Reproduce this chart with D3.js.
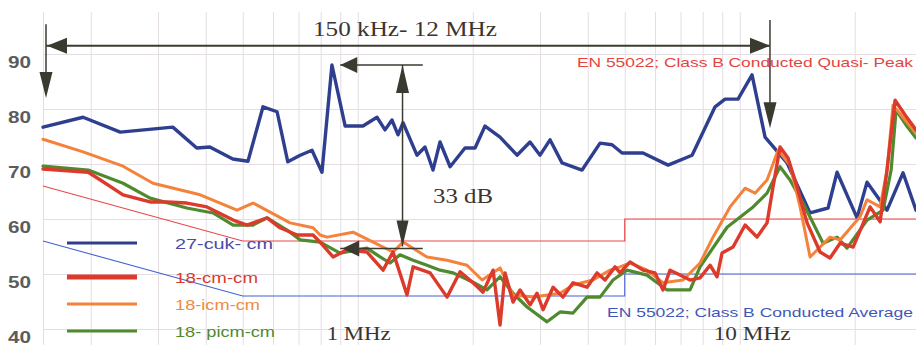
<!DOCTYPE html>
<html>
<head>
<meta charset="utf-8">
<script src="https://cdn.jsdelivr.net/npm/d3@7"></script>
<style>
  html, body { margin: 0; padding: 0; background: #fff; }
  svg { display: block; }
</style>
</head>
<body>
<svg id="chart" width="916" height="345"></svg>
<script>
// ---- data: frequency in MHz, level in dBµV ----
const cukData = [
  [0.150,76.7],[0.191,78.5],[0.239,75.8],[0.328,76.7],[0.379,72.9],[0.410,73.1],[0.471,70.9],
  [0.516,70.5],[0.565,80.4],[0.615,79.5],[0.656,70.4],[0.707,71.6],[0.759,72.5],[0.806,68.5],
  [0.856,88.0],[0.927,76.9],[1.032,76.9],[1.123,78.5],[1.179,76.2],[1.229,78.0],[1.275,75.3],
  [1.314,77.5],[1.429,71.6],[1.500,73.1],[1.574,68.9],[1.642,74.0],[1.745,69.5],[1.909,72.9],
  [2.028,72.9],[2.154,76.9],[2.358,74.9],[2.612,71.6],[2.825,74.0],[3.001,71.6],[3.187,74.4],
  [3.426,70.2],[3.866,68.9],[4.309,73.8],[4.632,73.5],[4.920,72.0],[5.583,72.0],[6.493,69.8],
  [7.504,71.6],[8.619,80.4],[9.153,81.8],[9.897,81.8],[10.77,86.2],[11.65,74.9],[13.30,70.2],
  [15.28,61.1],[17.03,62.0],[17.98,68.5],[20.28,60.2],[21.54,66.7],[24.30,61.6],[26.76,68.4],
  [28.94,61.6]
];
const cmData = [
  [0.150,69.1],[0.197,68.5],[0.212,67.1],[0.243,64.4],[0.286,63.1],[0.317,63.1],[0.357,62.9],
  [0.403,62.2],[0.472,59.8],[0.513,58.9],[0.579,60.2],[0.626,58.4],[0.694,57.1],[0.764,57.1],
  [0.797,55.8],[0.862,53.1],[0.937,54.4],[1.057,54.0],[1.165,50.7],[1.237,54.0],[1.346,46.2],
  [1.396,51.3],[1.547,50.2],[1.713,45.8],[1.853,50.4],[2.004,48.4],[2.128,46.7],[2.261,50.7],
  [2.358,40.7],[2.430,50.2],[2.550,44.9],[2.660,47.1],[2.826,44.4],[2.947,46.5],[3.056,43.5],
  [3.246,47.6],[3.446,45.8],[3.661,48.4],[3.984,47.6],[4.231,50.2],[4.441,48.9],[4.717,51.3],
  [4.860,50.2],[5.163,52.2],[5.583,50.7],[6.002,50.2],[6.298,47.1],[6.570,50.7],[6.978,49.8],
  [7.412,48.9],[7.873,49.3],[8.362,51.6],[8.723,49.5],[8.989,53.8],[9.605,54.9],[10.33,58.9],
  [11.10,56.7],[11.79,59.3],[12.22,65.8],[12.75,73.1],[13.38,71.1],[14.13,65.8],[15.01,59.3],
  [16.23,54.0],[17.23,52.9],[18.31,55.6],[19.81,54.9],[21.94,62.2],[23.31,59.5],[24.30,68.9],
  [25.51,81.6],[27.09,78.9],[28.94,76.2]
];
const icmData = [
  [0.150,74.5],[0.191,72.2],[0.243,69.6],[0.291,66.5],[0.387,64.4],[0.483,61.6],[0.532,62.9],
  [0.665,59.3],[0.764,58.4],[0.797,57.1],[0.831,56.7],[0.972,57.6],[1.097,55.8],[1.237,54.0],
  [1.314,55.8],[1.518,53.1],[1.713,52.5],[1.932,51.6],[2.116,48.9],[2.358,51.1],[2.550,46.2],
  [2.877,45.8],[3.386,46.5],[3.661,48.0],[4.130,48.9],[4.577,50.7],[4.860,51.3],[5.163,52.0],
  [5.718,50.7],[6.298,48.4],[7.105,48.9],[7.873,52.0],[8.513,56.7],[9.433,62.2],[10.33,65.6],
  [10.97,64.7],[11.79,67.1],[12.60,72.5],[13.54,69.8],[14.39,62.2],[15.28,53.1],[16.23,54.9],
  [17.23,56.7],[18.31,56.2],[20.65,60.4],[21.54,63.5],[23.31,62.2],[24.30,68.9],[25.19,80.7],
  [27.09,78.0],[28.94,75.6]
];
const picmData = [
  [0.150,69.6],[0.197,68.9],[0.243,66.5],[0.286,63.8],[0.357,62.0],[0.418,61.1],[0.472,58.9],
  [0.532,58.9],[0.579,60.2],[0.653,58.0],[0.707,56.2],[0.797,55.8],[0.899,53.8],[1.057,54.7],
  [1.144,53.1],[1.215,52.0],[1.290,53.5],[1.396,52.5],[1.518,51.6],[1.642,50.7],[1.777,50.2],
  [2.004,48.5],[2.180,47.1],[2.358,49.5],[2.550,46.5],[2.775,44.0],[3.130,41.3],[3.386,43.1],
  [3.661,42.9],[3.984,45.8],[4.309,45.8],[4.660,48.9],[5.070,50.7],[5.718,49.8],[6.454,47.1],
  [7.412,47.1],[7.873,51.3],[9.265,58.5],[10.84,62.2],[11.79,64.7],[12.75,69.5],[13.54,67.1],
  [14.65,62.9],[16.53,55.6],[17.98,56.7],[19.09,54.7],[21.54,59.8],[23.73,61.6],[24.91,68.9],
  [25.66,79.8],[27.24,77.1],[28.94,74.7]
];

// EN 55022 Class B conducted limits
const qpLimit  = [[0.15,66],[0.5,56],[5,56],[5,60],[30,60]];
const avgLimit = [[0.15,56],[0.5,46],[5,46],[5,50],[30,50]];

const seriesNames  = ["27-cuk- cm", "18-cm-cm", "18-icm-cm", "18- picm-cm"];
const levelTicks   = [40, 50, 60, 70, 80, 90];
const levelLabels  = ["40", "50", "60", "70", "80", "90"];
const freqGrid     = [0.15,0.2,0.3,0.4,0.5,0.6,0.7,0.8,0.9,1,2,3,4,5,6,7,8,9,10,20];
const decadeLabels = [[1, "1 MHz"], [10, "10 MHz"]];

// annotated range and margin
const spanStart = 0.15, spanEnd = 12, spanLabel = "150 kHz- 12 MHz";
const marginFreq = 1.31, marginTop = 88, marginBottom = 55, marginLabel = "33 dB";

// ---- layout ----
const W = 916, H = 345;
const svg = d3.select("#chart");
const x = d3.scaleLog().domain([0.15, 30]).range([43, 43 + 382 * Math.log10(200)]);
const y = d3.scaleLinear().domain([40, 90]).range([329, 54]);

const gridColor = "#e4dde2";
const ink = "#3b3a30";
const sans = "'Liberation Sans', Arial, sans-serif";
const serif = "'Liberation Serif', 'Times New Roman', serif";

// vertical grid
const gx = svg.append("g").attr("transform", `translate(0,${H})`)
  .call(d3.axisBottom(x).tickValues(freqGrid).tickSize(-(H - 12)).tickFormat(""));
gx.select(".domain").remove();
gx.selectAll(".tick line").attr("stroke", gridColor).attr("stroke-width", 1);

// horizontal grid + level labels
const gy = svg.append("g").attr("transform", `translate(${x(0.15)},0)`)
  .call(d3.axisLeft(y).tickValues(levelTicks)
    .tickFormat((d, i) => levelLabels[i]).tickSize(-(W - x(0.15))));
gy.select(".domain").remove();
gy.selectAll(".tick line").attr("stroke", gridColor).attr("stroke-width", 1);
gy.selectAll(".tick text")
  .attr("x", 8 - x(0.15)).attr("dy", null).attr("y", 13)
  .attr("text-anchor", "start")
  .attr("font-family", sans).attr("font-size", 16).attr("font-weight", "bold")
  .attr("fill", "#5c5c5c")
  .attr("textLength", 23).attr("lengthAdjust", "spacingAndGlyphs");

const line = d3.line().x(d => x(d[0])).y(d => y(d[1]));

// limit lines
svg.append("path").datum(qpLimit).attr("d", line)
  .attr("fill", "none").attr("stroke", "#e8484a").attr("stroke-width", 1.2);
svg.append("path").datum(avgLimit).attr("d", line)
  .attr("fill", "none").attr("stroke", "#4262d4").attr("stroke-width", 1.1);

// measured spectra
const series = [
  { data: cukData,  color: "#2f3f8f", text: "#4b4ba6", w: 3.4, lw: 3 },
  { data: picmData, color: "#4f8a2f", text: "#4f8a2f", w: 3.2, lw: 3.2 },
  { data: icmData,  color: "#f5823a", text: "#f08a3c", w: 3,   lw: 3.2 },
  { data: cmData,   color: "#dc3a2a", text: "#d8392c", w: 3.4, lw: 5 }
];
series.forEach(s => {
  svg.append("path").datum(s.data).attr("d", line)
    .attr("fill", "none").attr("stroke", s.color).attr("stroke-width", s.w)
    .attr("stroke-linejoin", "round").attr("stroke-linecap", "round");
});

// legend
const legendOrder = [0, 3, 2, 1];
const legendY = [243, 277, 304, 331];
const legendWidths = [98, 83, 85, 100];
legendOrder.forEach((si, i) => {
  const s = series[si];
  svg.append("line").attr("x1", 67).attr("x2", 137)
    .attr("y1", legendY[i]).attr("y2", legendY[i])
    .attr("stroke", s.color).attr("stroke-width", s.lw);
  svg.append("text").attr("x", 175).attr("y", legendY[i] + 5.5)
    .attr("font-family", sans).attr("font-size", 15).attr("fill", s.text)
    .attr("textLength", legendWidths[i]).attr("lengthAdjust", "spacingAndGlyphs")
    .text(seriesNames[i]);
});

// limit captions
svg.append("text").attr("x", 577).attr("y", 67)
  .attr("font-family", sans).attr("font-size", 13.5).attr("fill", "#e4443e")
  .attr("textLength", 336).attr("lengthAdjust", "spacingAndGlyphs")
  .text("EN 55022;  Class B Conducted Quasi- Peak");
svg.append("text").attr("x", 607).attr("y", 317)
  .attr("font-family", sans).attr("font-size", 13.5).attr("fill", "#3f58b8")
  .attr("textLength", 306).attr("lengthAdjust", "spacingAndGlyphs")
  .text("EN 55022;   Class B Conducted Average");

// decade labels
const decadeOffsets = [-31, -26];
const decadeWidths = [64, 77];
decadeLabels.forEach(([f, t], i) => {
  svg.append("text").attr("x", x(f) + decadeOffsets[i]).attr("y", 340)
    .attr("font-family", serif).attr("font-size", 18).attr("fill", "#3a3530")
    .attr("textLength", decadeWidths[i]).attr("lengthAdjust", "spacingAndGlyphs")
    .text(t);
});

// ---- annotation arrows ----
const ann = svg.append("g");
function head(tx, ty, dir, len, half) {
  let pts;
  if (dir === "left")  pts = [[tx, ty], [tx + len, ty - half], [tx + len, ty + half]];
  if (dir === "right") pts = [[tx, ty], [tx - len, ty - half], [tx - len, ty + half]];
  if (dir === "up")    pts = [[tx, ty], [tx - half, ty + len], [tx + half, ty + len]];
  if (dir === "down")  pts = [[tx, ty], [tx - half, ty - len], [tx + half, ty - len]];
  ann.append("path").attr("d", "M" + pts.join("L") + "Z").attr("fill", ink);
}
function seg(x1, y1, x2, y2, w) {
  ann.append("line").attr("x1", x1).attr("y1", y1).attr("x2", x2).attr("y2", y2)
    .attr("stroke", ink).attr("stroke-width", w);
}

// measured range
const spanY = y(91.5);
const xs = x(spanStart) + 3, xe = x(spanEnd);
seg(xs, spanY, xe, spanY, 2);
head(xs + 1, spanY, "left", 20, 8);
head(xe, spanY, "right", 20, 8);
seg(xs, y(95.4), xs, y(83), 1.5);
head(xs, y(82), "down", 26, 6.5);
seg(xe, y(96.2), xe, y(78), 1.5);
head(xe, y(76.5), "down", 26, 6.5);
ann.append("text").attr("x", 313).attr("y", 36)
  .attr("font-family", serif).attr("font-size", 20).attr("fill", "#3a3530")
  .attr("textLength", 184).attr("lengthAdjust", "spacingAndGlyphs")
  .text(spanLabel);

// margin between peak and limit
const mx = x(marginFreq), mTop = y(marginTop), mBot = y(marginBottom);
seg(mx, mTop, mx, mBot, 1.5);
head(mx, mTop, "up", 28, 6.5);
head(mx, mBot, "down", 26, 6);
seg(x(0.9), mTop, x(1.48), mTop, 1.3);
head(x(0.9), mTop, "left", 17, 8);
seg(x(0.9), mBot + 2, x(1.48), mBot + 2, 1.3);
head(x(0.9) + 2, mBot + 2, "left", 17, 8);
ann.append("text").attr("x", 433).attr("y", 203)
  .attr("font-family", serif).attr("font-size", 20).attr("fill", "#3a3530")
  .attr("textLength", 60).attr("lengthAdjust", "spacingAndGlyphs")
  .text(marginLabel);
</script>
</body>
</html>
